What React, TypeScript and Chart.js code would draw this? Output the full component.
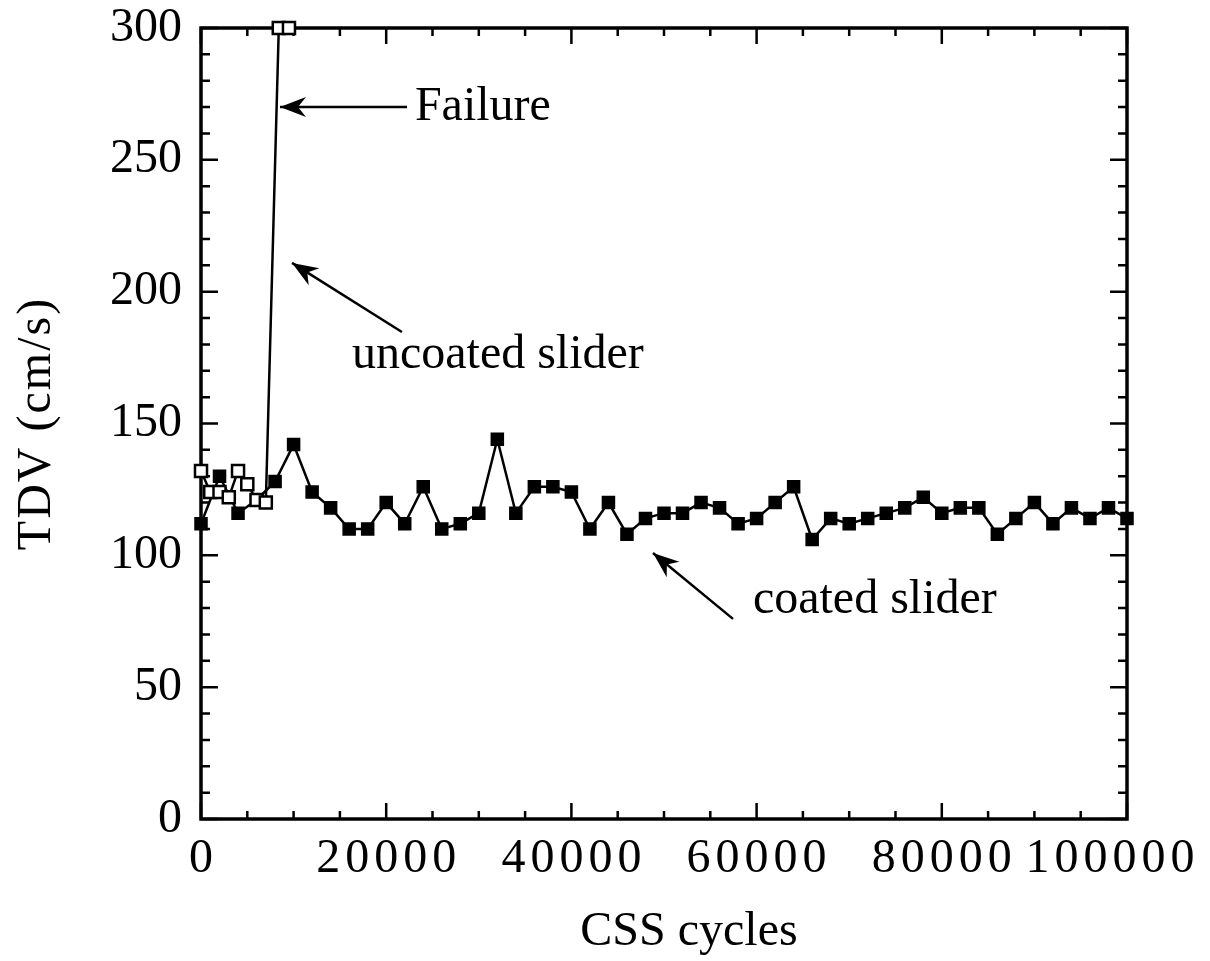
import React, { useEffect, useRef } from 'react';
import { Chart, registerables } from 'chart.js';

Chart.register(...registerables);

const coatedCycles = [
  0, 2000, 4000, 6000, 8000, 10000, 12000, 14000, 16000, 18000,
  20000, 22000, 24000, 26000, 28000, 30000, 32000, 34000, 36000, 38000,
  40000, 42000, 44000, 46000, 48000, 50000, 52000, 54000, 56000, 58000,
  60000, 62000, 64000, 66000, 68000, 70000, 72000, 74000, 76000, 78000,
  80000, 82000, 84000, 86000, 88000, 90000, 92000, 94000, 96000, 98000,
  100000,
];
const coatedTDV = [
  112, 130, 116, 121, 128, 142, 124, 118, 110, 110,
  120, 112, 126, 110, 112, 116, 144, 116, 126, 126,
  124, 110, 120, 108, 114, 116, 116, 120, 118, 112,
  114, 120, 126, 106, 114, 112, 114, 116, 118, 122,
  116, 118, 118, 108, 114, 120, 112, 118, 114, 118,
  114,
];

const uncoatedCycles = [0, 1000, 2000, 3000, 4000, 5000, 6000, 7000, 8400, 9500];
const uncoatedTDV = [132, 124, 124, 122, 132, 127, 121, 120, 300, 300];

const xMin = 0;
const xMax = 100000;
const xMajorStep = 20000;
const xMinorStep = 5000;
const yMin = 0;
const yMax = 300;
const yMajorStep = 50;
const yMinorStep = 10;

const annotationTexts = ['Failure', 'uncoated slider', 'coated slider'];
const annotationTextAt = [
  [23100, 270],
  [16300, 176],
  [59600, 83],
];
const arrowTails = [
  [22250, 270],
  [21700, 184.7],
  [57450, 75.9],
];
const arrowTips = [
  [8530, 270],
  [9830, 210.9],
  [48810, 100.9],
];

const FONT = "'Liberation Serif', 'DejaVu Serif', serif";

function drawArrowHead(ctx: CanvasRenderingContext2D, tx: number, ty: number, fx: number, fy: number) {
  const ang = Math.atan2(ty - fy, tx - fx);
  const L = 26;
  const W = 10;
  const notch = 18;
  const cos = Math.cos(ang);
  const sin = Math.sin(ang);
  const bx = tx - L * cos;
  const by = ty - L * sin;
  const nx = tx - notch * cos;
  const ny = ty - notch * sin;
  ctx.beginPath();
  ctx.moveTo(tx, ty);
  ctx.lineTo(bx - W * sin, by + W * cos);
  ctx.lineTo(nx, ny);
  ctx.lineTo(bx + W * sin, by - W * cos);
  ctx.closePath();
  ctx.fill();
}

const framePlugin = {
  id: 'frameTicks',
  beforeDatasetsDraw(chart: any) {
    const { ctx, chartArea } = chart;
    const xs = chart.scales.x;
    const ys = chart.scales.y;
    const { left, right, top, bottom } = chartArea;
    ctx.save();
    ctx.strokeStyle = '#000';
    ctx.lineWidth = 2.5;
    for (let v = yMin; v <= yMax; v += yMinorStep) {
      const p = ys.getPixelForValue(v);
      const len = v % yMajorStep === 0 ? 17 : 9;
      ctx.beginPath();
      ctx.moveTo(left, p);
      ctx.lineTo(left + len, p);
      ctx.moveTo(right, p);
      ctx.lineTo(right - len, p);
      ctx.stroke();
    }
    for (let v = xMin; v <= xMax; v += xMinorStep) {
      const p = xs.getPixelForValue(v);
      const len = v % xMajorStep === 0 ? 16 : 8;
      ctx.beginPath();
      ctx.moveTo(p, bottom);
      ctx.lineTo(p, bottom - len);
      ctx.moveTo(p, top);
      ctx.lineTo(p, top + len);
      ctx.stroke();
    }
    ctx.lineWidth = 3.5;
    ctx.strokeRect(left, top, right - left, bottom - top);
    ctx.restore();
  },
  afterDatasetsDraw(chart: any) {
    const { ctx } = chart;
    const xs = chart.scales.x;
    const ys = chart.scales.y;
    ctx.save();
    ctx.fillStyle = '#000';
    ctx.strokeStyle = '#000';
    ctx.lineWidth = 2.5;
    ctx.font = `48px ${FONT}`;
    ctx.textAlign = 'left';
    ctx.textBaseline = 'middle';
    for (let i = 0; i < annotationTexts.length; i++) {
      const tx = xs.getPixelForValue(arrowTips[i][0]);
      const ty = ys.getPixelForValue(arrowTips[i][1]);
      const fx = xs.getPixelForValue(arrowTails[i][0]);
      const fy = ys.getPixelForValue(arrowTails[i][1]);
      ctx.beginPath();
      ctx.moveTo(fx, fy);
      ctx.lineTo(tx, ty);
      ctx.stroke();
      drawArrowHead(ctx, tx, ty, fx, fy);
      ctx.fillText(
        annotationTexts[i],
        xs.getPixelForValue(annotationTextAt[i][0]),
        ys.getPixelForValue(annotationTextAt[i][1])
      );
    }
    ctx.restore();
  },
};

function patchX(scale: any) {
  scale.height = 142;
  scale.paddingLeft = 0;
  scale.paddingRight = 0;
  scale.paddingTop = 0;
  scale.paddingBottom = 0;
  if (scale.__patched) return;
  scale.__patched = true;
  const origLabels = scale.drawLabels;
  scale.drawLabels = function (area: any) {
    const c = this.ctx;
    c.save();
    c.letterSpacing = '5px';
    origLabels.call(this, area);
    c.restore();
  };
  const origCompute = scale._computeLabelItems;
  if (typeof origCompute === 'function') {
    scale._computeLabelItems = function (area: any) {
      const items = origCompute.call(this, area);
      if (items && items.length) {
        const last = items[items.length - 1];
        if (last && last.options && last.options.translation) {
          last.options.translation = [last.options.translation[0] - 17, last.options.translation[1]];
        }
      }
      return items;
    };
  }
  const origTitle = scale.drawTitle;
  scale.drawTitle = function () {
    const c = this.ctx;
    c.save();
    c.translate(25, 0);
    origTitle.call(this);
    c.restore();
  };
}

function patchY(scale: any) {
  scale.width = 201;
  scale.paddingTop = 0;
  scale.paddingBottom = 0;
  scale.paddingLeft = 0;
  scale.paddingRight = 0;
  if (scale.__patched) return;
  scale.__patched = true;
  const origTitle = scale.drawTitle;
  scale.drawTitle = function () {
    const c = this.ctx;
    c.save();
    c.letterSpacing = '2px';
    origTitle.call(this);
    c.restore();
  };
}

export default function App() {
  const ref = useRef<HTMLCanvasElement | null>(null);

  useEffect(() => {
    if (!ref.current) return;
    Chart.defaults.font.family = FONT;
    Chart.defaults.color = '#000';
    const chart = new Chart(ref.current, {
      type: 'scatter',
      data: {
        datasets: [
          {
            label: 'coated slider',
            data: coatedCycles.map((x, i) => ({ x, y: coatedTDV[i] })),
            showLine: true,
            borderColor: '#000',
            borderWidth: 2.5,
            backgroundColor: '#000',
            pointStyle: 'rect',
            pointRadius: 8.5,
            pointBorderWidth: 1.5,
            pointBorderColor: '#000',
            pointBackgroundColor: '#000',
            order: 2,
            clip: false,
          },
          {
            label: 'uncoated slider',
            data: uncoatedCycles.map((x, i) => ({ x, y: uncoatedTDV[i] })),
            showLine: true,
            borderColor: '#000',
            borderWidth: 2.5,
            backgroundColor: '#fff',
            pointStyle: 'rect',
            pointRadius: 8.5,
            pointBorderWidth: 2.5,
            pointBorderColor: '#000',
            pointBackgroundColor: '#fff',
            order: 1,
            clip: false,
          },
        ],
      },
      options: {
        animation: false,
        responsive: false,
        maintainAspectRatio: false,
        events: [],
        layout: { padding: { left: 0, top: 28, right: 83, bottom: 0 } },
        plugins: {
          legend: { display: false },
          tooltip: { enabled: false },
        },
        scales: {
          x: {
            type: 'linear',
            min: xMin,
            max: xMax,
            grid: { display: false, drawTicks: false },
            border: { display: false },
            ticks: {
              stepSize: xMajorStep,
              autoSkip: false,
              maxRotation: 0,
              padding: 12,
              labelOffset: 2.5,
              color: '#000',
              font: { size: 48, family: FONT },
              callback: (v: any) => String(v),
            },
            title: {
              display: true,
              text: 'CSS cycles',
              color: '#000',
              font: { size: 48, family: FONT },
              padding: { top: 4, bottom: 0 },
            },
            afterFit: patchX,
          },
          y: {
            type: 'linear',
            min: yMin,
            max: yMax,
            grid: { display: false, drawTicks: false },
            border: { display: false },
            ticks: {
              stepSize: yMajorStep,
              padding: 19,
              color: '#000',
              font: { size: 48, family: FONT },
              callback: (v: any) => String(v),
            },
            title: {
              display: true,
              text: 'TDV (cm/s)',
              color: '#000',
              font: { size: 48, family: FONT },
              padding: { top: 9, bottom: 0 },
            },
            afterFit: patchY,
          },
        },
      },
      plugins: [framePlugin],
    } as any);
    return () => chart.destroy();
  }, []);

  return (
    <div style={{ position: 'absolute', left: 0, top: 0, width: 1210, height: 961, background: '#fff' }}>
      <canvas ref={ref} width={1210} height={961} style={{ display: 'block' }} />
    </div>
  );
}
